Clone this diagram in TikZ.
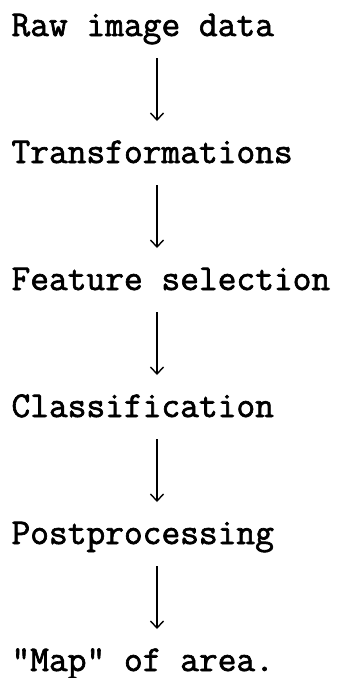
\documentclass[tikz,border=0pt]{standalone}
\usepackage{fontspec}
\newfontfamily\twfont[FakeBold=1.8]{Latin Modern Mono}
\usetikzlibrary{arrows.meta}
\begin{document}
\begin{tikzpicture}[x=1pt,y=1pt,
  stage/.style={anchor=base west,inner sep=0pt,outer sep=0pt,
    text height=22pt,text depth=6pt,font=\twfont\fontsize{36.4}{36.4}\selectfont},
  flow/.style={line width=1.4pt,-{Straight Barb[length=7pt,width=13pt,line width=1.4pt]},
    shorten <=16pt,shorten >=20pt}]
\useasboundingbox (0,0) rectangle (342,-678);
\coordinate (col) at (157,0);
\node[stage] (a) at (11.5,-36)  {Raw image data};
\node[stage] (b) at (11.5,-163) {Transformations};
\node[stage] (c) at (11.5,-290) {Feature selection};
\node[stage] (d) at (11.5,-417) {Classification};
\node[stage] (e) at (11.5,-544) {Postprocessing};
\node[stage] (f) at (11.5,-671) {"Map" of area.};
\draw[flow] (a.south -| col) -- (b.north -| col);
\draw[flow] (b.south -| col) -- (c.north -| col);
\draw[flow] (c.south -| col) -- (d.north -| col);
\draw[flow] (d.south -| col) -- (e.north -| col);
\draw[flow] (e.south -| col) -- (f.north -| col);
\end{tikzpicture}
\end{document}
